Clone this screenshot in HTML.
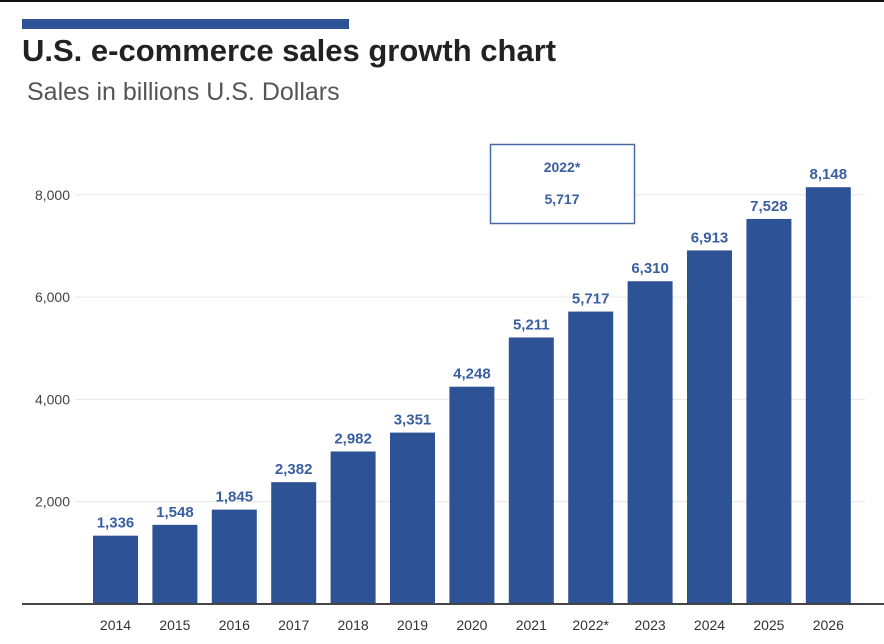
<!DOCTYPE html>
<html><head><meta charset="utf-8"><style>
body{margin:0;width:884px;height:644px;background:#fff;overflow:hidden;font-family:"Liberation Sans",sans-serif;position:relative}
</style></head><body>
<div style="position:absolute;left:0;top:0;width:884px;height:2px;background:#111"></div>
<div style="position:absolute;left:22px;top:19px;width:327px;height:10px;background:#2d5396"></div>
<div style="position:absolute;left:22px;top:33px;font-size:31px;font-weight:bold;color:#222;white-space:nowrap">U.S. e-commerce sales growth chart</div>
<div style="position:absolute;left:27px;top:78px;font-size:25px;color:#555;white-space:nowrap">Sales in billions U.S. Dollars</div>
<svg id="chart" width="884" height="644" style="position:absolute;left:0;top:0"></svg>
<script>
const categories=["2014","2015","2016","2017","2018","2019","2020","2021","2022*","2023","2024","2025","2026"];
const values=[1336,1548,1845,2382,2982,3351,4248,5211,5717,6310,6913,7528,8148];
const valueLabels=["1,336","1,548","1,845","2,382","2,982","3,351","4,248","5,211","5,717","6,310","6,913","7,528","8,148"];
const yTicks=[2000,4000,6000,8000];
const yTickLabels=["2,000","4,000","6,000","8,000"];
const svg=document.getElementById('chart');
const NS='http://www.w3.org/2000/svg';
const y0=604,pxPer=102.3/2000;
const yS=v=>y0-v*pxPer;
const xS=i=>93+i*59.4;
const bw=45;
function mk(t,a){const e=document.createElementNS(NS,t);for(const k in a)e.setAttribute(k,a[k]);svg.appendChild(e);return e;}
yTicks.forEach((t,i)=>{
 const g=mk('line',{x1:75,x2:865,y1:yS(t),y2:yS(t),stroke:'#e6e6e6','stroke-width':1});
 
 
 const l=mk('text',{x:70,y:yS(t)+5,'text-anchor':'end','font-size':14,fill:'#444'});
 l.textContent=yTickLabels[i];
 
 
});
categories.forEach((c,i)=>{
 const r=mk('rect',{x:xS(i),y:yS(values[i]),width:bw,height:values[i]*pxPer,fill:'#2d5396'});
 
 
 const v=mk('text',{x:xS(i)+bw/2,y:yS(values[i])-8,'text-anchor':'middle','font-size':15,'font-weight':'bold',fill:'#3a5fa0'});
 v.textContent=valueLabels[i];
 
 
 const x=mk('text',{x:xS(i)+bw/2,y:630,'text-anchor':'middle','font-size':14,fill:'#333'});
 x.textContent=c;
 
 
});
const ax=mk('line',{x1:22,x2:884,y1:y0,y2:y0,stroke:'#444','stroke-width':2});


const cb=mk('rect',{x:490.5,y:144.5,width:144,height:79,fill:'#fff',stroke:'#4a6aa5','stroke-width':1.5});


const c1=mk('text',{x:562,y:172,'text-anchor':'middle','font-size':14,'font-weight':'bold',fill:'#3a5fa0'});
c1.textContent=categories[8];


const c2=mk('text',{x:562,y:204,'text-anchor':'middle','font-size':14,'font-weight':'bold',fill:'#3a5fa0'});
c2.textContent=valueLabels[8];


</script>
</body></html>
